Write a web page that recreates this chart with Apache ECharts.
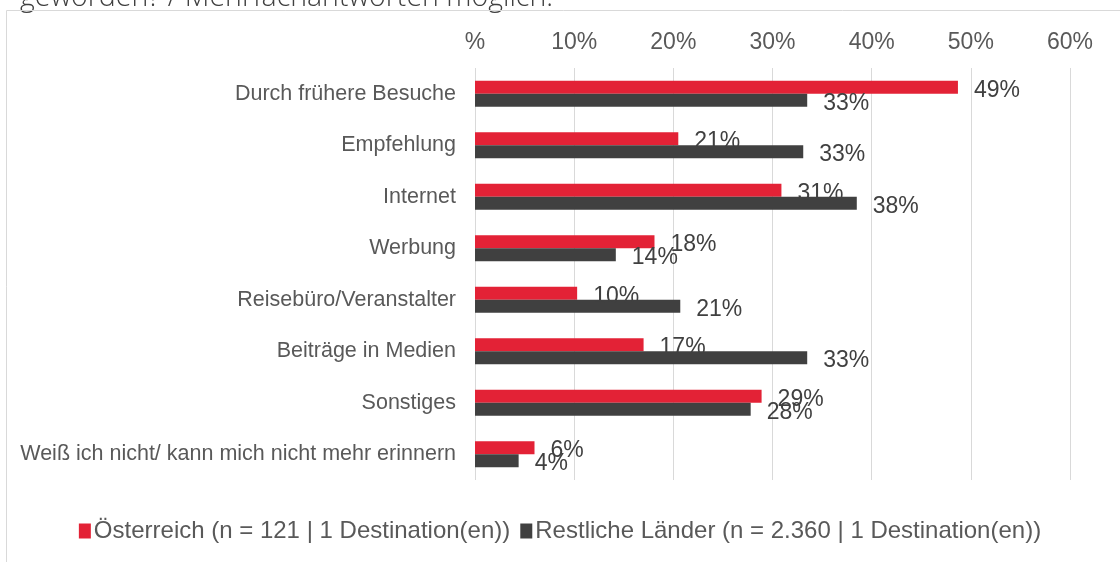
<!DOCTYPE html>
<html>
<head>
<meta charset="utf-8">
<script src="https://cdn.jsdelivr.net/npm/echarts@6/dist/echarts.min.js"></script>
<style>html,body{margin:0;padding:0;background:#fff;}#c{width:1120px;height:562px;}</style>
</head>
<body>
<div id="c"></div>
<script>
var categories = ['Durch frühere Besuche','Empfehlung','Internet','Werbung','Reisebüro/Veranstalter','Beiträge in Medien','Sonstiges','Weiß ich nicht/ kann mich nicht mehr erinnern'];
var seriesNames = ['Österreich (n = 121 | 1 Destination(en))','Restliche Länder (n = 2.360 | 1 Destination(en))'];
var oesterreich = [48.7, 20.5, 30.9, 18.1, 10.3, 17.0, 28.9, 6.0];
var restliche = [33.5, 33.1, 38.5, 14.2, 20.7, 33.5, 27.8, 4.4];
var oesterreichLabels = ['49%','21%','31%','18%','10%','17%','29%','6%'];
var restlicheLabels = ['33%','33%','38%','14%','21%','33%','28%','4%'];
var titleText = 'geworden? / Mehrfachantworten möglich.';

var chart = echarts.init(document.getElementById('c'));
var font = 'Liberation Sans, Arial, sans-serif';
chart.setOption({
  animation: false,
  graphic: [
    {type:'rect', shape:{x:6.5,y:10.5,width:1200,height:600}, style:{fill:'none', stroke:'#d9d9d9', lineWidth:1}, silent:true},
    {type:'text', left:20, top:-17, z:-1, style:{text:titleText, fontFamily:'Open Sans', fontWeight:300, fontSize:28.5, fill:'#404040'}}
  ],
  grid: {left:475, right:50, top:68, bottom:82, containLabel:false},
  legend: {
    bottom: 14, left:'center', itemWidth:12, itemHeight:15, itemGap:10,
    icon:'rect',
    textStyle:{fontFamily:font, fontSize:24, color:'#595959', padding:[0,0,0,-2]},
    data: seriesNames
  },
  xAxis: {
    type:'value', position:'top', min:0, max:60, interval:10,
    axisLine:{show:false}, axisTick:{show:false},
    splitLine:{lineStyle:{color:'#d9d9d9', width:1}},
    axisLabel:{fontFamily:font, fontSize:23, color:'#595959', margin:14,
      formatter:function(v){return v===0?'%':v+'%';}}
  },
  yAxis: {
    type:'category', inverse:true, data:categories,
    axisLine:{show:false}, axisTick:{show:false},
    axisLabel:{fontFamily:font, fontSize:21.5, color:'#595959', margin:19}
  },
  series: [
    {name:seriesNames[0], type:'bar', data:oesterreich, barWidth:13, barGap:'0%',
     itemStyle:{color:'#E32236'},
     label:{show:true, position:'right', distance:16, offset:[0,3], fontFamily:font, fontSize:23, color:'#404040',
       formatter:function(p){return oesterreichLabels[p.dataIndex];}}},
    {name:seriesNames[1], type:'bar', data:restliche, barWidth:13, barGap:'0%',
     itemStyle:{color:'#404040'},
     label:{show:true, position:'right', distance:16, offset:[0,3], fontFamily:font, fontSize:23, color:'#404040',
       formatter:function(p){return restlicheLabels[p.dataIndex];}}}
  ]
});
</script>
</body>
</html>
